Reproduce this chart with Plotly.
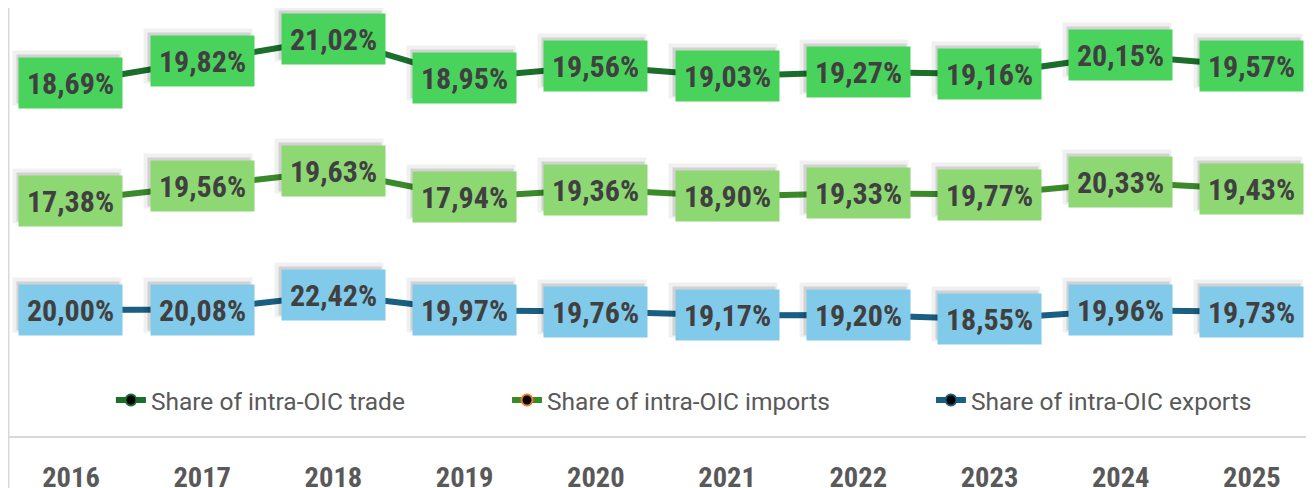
import numpy as np
import plotly.graph_objects as go

years = [2016, 2017, 2018, 2019, 2020, 2021, 2022, 2023, 2024, 2025]
exports_share = [20.00, 20.08, 22.42, 19.97, 19.76, 19.17, 19.20, 18.55, 19.96, 19.73]
imports_share = [17.38, 19.56, 19.63, 17.94, 19.36, 18.90, 19.33, 19.77, 20.33, 19.43]
trade_share = [18.69, 19.82, 21.02, 18.95, 19.56, 19.03, 19.27, 19.16, 20.15, 19.57]

series_names = ["Share of intra-OIC exports", "Share of intra-OIC imports", "Share of intra-OIC trade"]
series_vals = [exports_share, imports_share, trade_share]
line_colors = ["#1a5f82", "#3b8a2a", "#1b6e2b"]
marker_lines = ["#1a5f82", "#f07a2a", "#1b6e2b"]
box_colors = ["#82caea", "#8ed874", "#4ad35c"]
legend_ids = ["legend3", "legend2", "legend"]

LABEL_FONT = "Roboto Condensed, Roboto"
TICK_FONT = "Roboto Condensed, Roboto"
LEGEND_FONT = "Roboto"

stack = np.cumsum(np.array(series_vals), axis=0)

fig = go.Figure()
for name, vals, col, mcol, lg in zip(series_names, stack, line_colors, marker_lines, legend_ids):
    fig.add_trace(go.Scatter(
        x=years, y=vals, name=name, mode="lines+markers",
        line=dict(color=col, width=6),
        marker=dict(color="black", size=11, line=dict(color=mcol, width=2)),
        hoverinfo="skip", legend=lg,
    ))

annotations = []
for vals in stack:
    for xv, yv in zip(years, vals):
        annotations.append(dict(
            x=xv, y=yv, xref="x", yref="y", text=" ", showarrow=False,
            width=108, height=54, bgcolor="rgba(0,0,0,0.06)", borderpad=0,
            xshift=-4, yshift=5, font=dict(size=10),
        ))
        annotations.append(dict(
            x=xv, y=yv, xref="x", yref="y", text=" ", showarrow=False,
            width=102, height=48, bgcolor="rgba(0,0,0,0.12)", borderpad=0,
            xshift=-3, yshift=4, font=dict(size=10),
        ))
for vals_raw, vals, bc in zip(series_vals, stack, box_colors):
    for xv, yv, rv in zip(years, vals, vals_raw):
        annotations.append(dict(
            x=xv, y=yv, xref="x", yref="y",
            text=f"{rv:.2f}%".replace(".", ","), showarrow=False,
            width=103, height=50, bgcolor=bc, borderpad=0,
            font=dict(family=LABEL_FONT, size=30, color="#404040", weight="bold"),
        ))

leg_common = dict(
    orientation="h", y=0.084, yanchor="middle", xanchor="left",
    bgcolor="rgba(0,0,0,0)", itemclick=False, itemdoubleclick=False,
    font=dict(family=LEGEND_FONT, size=24.5, color="#595959"),
)

fig.update_layout(
    width=1306, height=480,
    margin=dict(l=0, r=0, t=0, b=52),
    paper_bgcolor="white", plot_bgcolor="white",
    showlegend=True,
    legend=dict(x=0.0788, **leg_common),
    legend2=dict(x=0.3821, **leg_common),
    legend3=dict(x=0.7067, **leg_common),
    xaxis=dict(
        range=[2015.52, 2025.473], showgrid=False, zeroline=False,
        tickmode="array", tickvals=years, ticktext=[str(y) for y in years],
        showline=True, linecolor="#d9d9d9", linewidth=2,
        ticks="", ticklabelstandoff=15, automargin=False,
        tickfont=dict(family=TICK_FONT, size=28.5, color="#595959", weight="bold"),
        fixedrange=True,
    ),
    yaxis=dict(
        range=[0, 67.94], showgrid=False, zeroline=False, showticklabels=False,
        showline=False, fixedrange=True, automargin=False,
    ),
    annotations=annotations,
    shapes=[dict(type="line", xref="paper", yref="paper", x0=0, x1=0, y0=-0.2, y1=1,
                 line=dict(color="#d9d9d9", width=3))],
)

fig.write_html("out.html")
